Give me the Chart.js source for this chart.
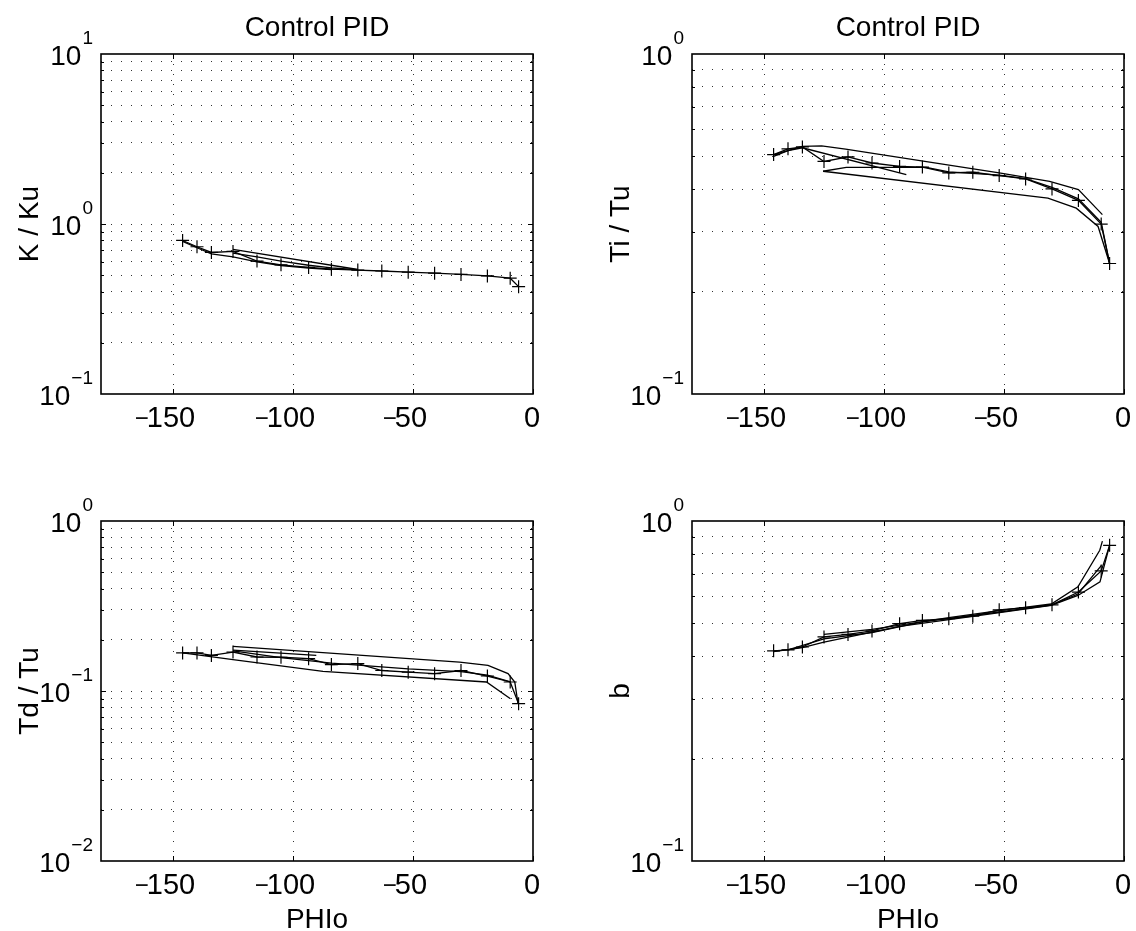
<!DOCTYPE html>
<html>
<head>
<meta charset="utf-8">
<script src="https://cdn.jsdelivr.net/npm/chart.js@4.4.1/dist/chart.umd.min.js"></script>
<style>
  html, body { margin: 0; padding: 0; background: #fff; }
  #fig { position: relative; width: 1136px; height: 931px; overflow: hidden; }
  .panel { position: absolute; width: 568px; }
  canvas { display: block; }
</style>
</head>
<body>
<div id="fig">
  <div class="panel" style="left:0;top:0;height:465px"><canvas id="kku" width="568" height="465"></canvas></div>
  <div class="panel" style="left:568px;top:0;height:465px"><canvas id="titu" width="568" height="465"></canvas></div>
  <div class="panel" style="left:0;top:465px;height:466px"><canvas id="tdtu" width="568" height="466"></canvas></div>
  <div class="panel" style="left:568px;top:465px;height:466px"><canvas id="bb" width="568" height="466"></canvas></div>
</div>
<script>
// PHIo values of the marked curve (same in all four plots)
const phiMarked = [-146, -140, -134, -125, -115, -105, -93.5, -84, -73, -63, -52, -41, -30, -19, -9.5, -6];
const xTicks = [-150, -100, -50, 0];

// K / Ku
const kMarked = [0.80, 0.735, 0.68, 0.69, 0.605, 0.575, 0.555, 0.542, 0.536, 0.529, 0.521, 0.514, 0.505, 0.495, 0.48, 0.428];
const kUpperPhi = [-125, -73];
const kUpper = [0.71, 0.54];
const kMidPhi = [-125, -115, -105, -93.5, -84, -73];
const kMid = [0.675, 0.64, 0.605, 0.572, 0.552, 0.538];
const kLowPhi = [-146, -140, -134, -125, -115, -105, -93.5, -84];
const kLow = [0.79, 0.725, 0.668, 0.64, 0.598, 0.57, 0.551, 0.54];
const kExp = [-1, 0, 1];

// Ti / Tu
const tiMarked = [0.506, 0.526, 0.533, 0.483, 0.498, 0.478, 0.467, 0.465, 0.447, 0.449, 0.439, 0.429, 0.401, 0.371, 0.316, 0.242];
const tiUpperPhi = [-146, -140, -134, -126, -116, -52, -31, -19, -9];
const tiUpper = [0.506, 0.52, 0.535, 0.537, 0.525, 0.447, 0.422, 0.399, 0.337];
const tiLowPhi = [-125.4, -31.7, -19.9, -10.8, -6];
const tiLow = [0.452, 0.377, 0.352, 0.311, 0.242];
const tiDropPhi = [-146, -140, -134, -90.7];
const tiDrop = [0.50, 0.52, 0.53, 0.442];
const tiMidPhi = [-125.4, -115.7, -82.4, -73, -52, -41, -30, -19, -9.5, -6];
const tiMid = [0.452, 0.464, 0.464, 0.45, 0.44, 0.43, 0.405, 0.375, 0.32, 0.242];
const tiExp = [-1, 0];

// Td / Tu
const tdMarked = [0.1675, 0.1675, 0.162, 0.1695, 0.1585, 0.158, 0.155, 0.143, 0.145, 0.132, 0.129, 0.1265, 0.132, 0.1225, 0.113, 0.0842];
const tdUpperPhi = [-125, -30.6, -18.75, -10.4, -7.6, -6.25];
const tdUpper = [0.183, 0.148, 0.1416, 0.1265, 0.113, 0.0842];
const tdLowPhi = [-146, -125, -87.5, -19.4, -9.4];
const tdLow = [0.1675, 0.153, 0.1305, 0.113, 0.090];
const tdShortPhi = [-125, -90.3];
const tdShort = [0.174, 0.162];
const tdMidPhi = [-125, -105, -84, -52, -30, -19, -9.4];
const tdMid = [0.172, 0.157, 0.146, 0.135, 0.13, 0.124, 0.113];
const tdExp = [-2, -1, 0];

// b
const bMarked = [0.415, 0.418, 0.426, 0.456, 0.464, 0.475, 0.499, 0.510, 0.516, 0.525, 0.548, 0.556, 0.567, 0.618, 0.713, 0.848];
const bUpperPhi = [-125, -105, -73, -52, -30.3, -19.2, -10.1, -9];
const bUpper = [0.464, 0.48, 0.52, 0.545, 0.57, 0.64, 0.82, 0.873];
const bLowPhi = [-146, -134, -125, -93.5, -63, -30.3, -19.2, -10, -6];
const bLow = [0.413, 0.424, 0.44, 0.49, 0.524, 0.565, 0.604, 0.662, 0.848];
const bMidPhi = [-140, -125, -105, -84, -52, -30.3, -19.2, -9.4];
const bMid = [0.418, 0.45, 0.47, 0.505, 0.54, 0.566, 0.61, 0.74];
const bExp = [-1, 0];

const FONT = '"Liberation Sans", Arial, Helvetica, sans-serif';

function pts(xs, ys) {
  return xs.map((x, i) => ({ x: x, y: ys[i] }));
}

function drawText(ctx, txt, x, y, size, align, rot) {
  ctx.save();
  ctx.translate(x, y);
  if (rot) ctx.rotate(rot);
  ctx.font = size + 'px ' + FONT;
  ctx.textAlign = align;
  ctx.textBaseline = 'alphabetic';
  ctx.fillStyle = '#000';
  ctx.fillText(txt, 0, 0);
  ctx.restore();
}

function textWidth(ctx, txt, size) {
  ctx.save();
  ctx.font = size + 'px ' + FONT;
  const w = ctx.measureText(txt).width;
  ctx.restore();
  return w;
}

// matlab-like decorations: box, inner ticks, labels with superscripts
const matlabAxes = {
  id: 'matlabAxes',
  afterDraw(chart, args, opts) {
    const ctx = chart.ctx;
    const a = chart.chartArea;
    const xs = chart.scales.x, ys = chart.scales.y;

    ctx.save();
    ctx.strokeStyle = '#000';
    ctx.lineWidth = 1;
    // inner ticks
    ctx.beginPath();
    xTicks.forEach(v => {
      const px = Math.round(xs.getPixelForValue(v)) + 0.5;
      ctx.moveTo(px, a.bottom); ctx.lineTo(px, a.bottom - 5);
      ctx.moveTo(px, a.top); ctx.lineTo(px, a.top + 5);
    });
    ys.ticks.forEach(t => {
      const py = Math.round(ys.getPixelForValue(t.value)) + 0.5;
      const lg = Math.log10(t.value);
      const len = Math.abs(lg - Math.round(lg)) < 1e-6 ? 5 : 3;
      ctx.moveTo(a.left, py); ctx.lineTo(a.left + len, py);
      ctx.moveTo(a.right, py); ctx.lineTo(a.right - len, py);
    });
    ctx.stroke();
    // box
    ctx.lineWidth = 1.6;
    ctx.strokeRect(a.left, a.top, a.right - a.left, a.bottom - a.top);
    ctx.restore();

    // y tick labels 10^n
    opts.exps.forEach(e => {
      const py = ys.getPixelForValue(Math.pow(10, e));
      const expTxt = e < 0 ? '\u2212' + (-e) : String(e);
      const wExp = textWidth(ctx, expTxt, 19);
      const wTen = textWidth(ctx, '10', 28);
      const right = a.left - 8;
      drawText(ctx, expTxt, right - wExp, py - 10, 19, 'left');
      drawText(ctx, '10', right - wExp - 1 - wTen, py + 11, 28, 'left');
    });

    // x tick labels: digits slightly left of the tick, minus hanging in front
    xTicks.forEach(v => {
      const px = xs.getPixelForValue(v);
      const digits = String(Math.abs(v));
      const y = a.bottom + 33;
      const wd = textWidth(ctx, digits, 29);
      const start = px - (v < 0 ? 2 : 1) - wd / 2;
      drawText(ctx, digits, start, y, 29, 'left');
      if (v < 0) drawText(ctx, '\u2212', start + 2, y - 1, 24, 'right');
    });

    // titles
    const cx = (a.left + a.right) / 2;
    if (opts.title) drawText(ctx, opts.title, cx, 36, 28, 'center');
    if (opts.xTitle) drawText(ctx, opts.xTitle, cx, a.bottom + 67, 28, 'center');
    drawText(ctx, opts.yTitle, a.left - 63, (a.top + a.bottom) / 2, 28, 'center', -Math.PI / 2);
  }
};

function makePanel(id, p) {
  const lineDs = p.series.map(s => ({
    data: pts(s.x, s.y),
    borderColor: '#000',
    borderWidth: 1.3,
    pointStyle: 'cross',
    pointRadius: s.marked ? 6.5 : 0,
    pointBorderColor: '#000',
    pointBorderWidth: 1.2,
    fill: false,
    tension: 0
  }));

  const yMin = Math.pow(10, p.exps[0]);
  const yMax = Math.pow(10, p.exps[p.exps.length - 1]);

  return new Chart(document.getElementById(id), {
    type: 'line',
    data: { datasets: lineDs },
    options: {
      responsive: false,
      animation: false,
      events: [],
      layout: { padding: { left: 0, right: p.padRight, top: p.padTop, bottom: 0 } },
      plugins: {
        legend: { display: false },
        tooltip: { enabled: false },
        matlabAxes: { exps: p.exps, yTitle: p.yTitle, title: p.title, xTitle: p.xTitle }
      },
      scales: {
        x: {
          type: 'linear',
          min: -180,
          max: 0,
          afterBuildTicks: s => { s.ticks = xTicks.slice(0, 3).map(v => ({ value: v })); },
          afterFit: s => { s.height = p.xHeight; },
          ticks: { display: false },
          grid: { color: '#333', lineWidth: 1, drawTicks: false },
          border: { display: false, dash: [1, 9] }
        },
        y: {
          type: 'logarithmic',
          min: yMin,
          max: yMax,
          afterBuildTicks: s => {
            const t = [];
            for (let e = p.exps[0]; e < p.exps[p.exps.length - 1]; e++) {
              for (let m = 1; m < 10; m++) {
                if (m === 1 && e === p.exps[0]) continue;
                t.push({ value: m * Math.pow(10, e) });
              }
            }
            s.ticks = t;
          },
          afterFit: s => { s.width = p.yWidth; },
          ticks: { display: false },
          grid: { color: '#333', lineWidth: 1, drawTicks: false },
          border: { display: false, dash: [1, 9] }
        }
      }
    },
    plugins: [matlabAxes]
  });
}

makePanel('kku', {
  exps: kExp, yTitle: 'K / Ku', title: 'Control PID', xTitle: null,
  padTop: 54, padRight: 35, yWidth: 101, xHeight: 71,
  series: [
    { x: phiMarked, y: kMarked, marked: true },
    { x: kUpperPhi, y: kUpper },
    { x: kMidPhi, y: kMid },
    { x: kLowPhi, y: kLow }
  ]
});

makePanel('titu', {
  exps: tiExp, yTitle: 'Ti / Tu', title: 'Control PID', xTitle: null,
  padTop: 54, padRight: 12, yWidth: 124, xHeight: 71,
  series: [
    { x: phiMarked, y: tiMarked, marked: true },
    { x: tiUpperPhi, y: tiUpper },
    { x: tiLowPhi, y: tiLow },
    { x: tiDropPhi, y: tiDrop },
    { x: tiMidPhi, y: tiMid }
  ]
});

makePanel('tdtu', {
  exps: tdExp, yTitle: 'Td / Tu', title: null, xTitle: 'PHIo',
  padTop: 56, padRight: 35, yWidth: 101, xHeight: 70,
  series: [
    { x: phiMarked, y: tdMarked, marked: true },
    { x: tdUpperPhi, y: tdUpper },
    { x: tdLowPhi, y: tdLow },
    { x: tdShortPhi, y: tdShort },
    { x: tdMidPhi, y: tdMid }
  ]
});

makePanel('bb', {
  exps: bExp, yTitle: 'b', title: null, xTitle: 'PHIo',
  padTop: 56, padRight: 12, yWidth: 124, xHeight: 70,
  series: [
    { x: phiMarked, y: bMarked, marked: true },
    { x: bUpperPhi, y: bUpper },
    { x: bLowPhi, y: bLow },
    { x: bMidPhi, y: bMid }
  ]
});
</script>
</body>
</html>
